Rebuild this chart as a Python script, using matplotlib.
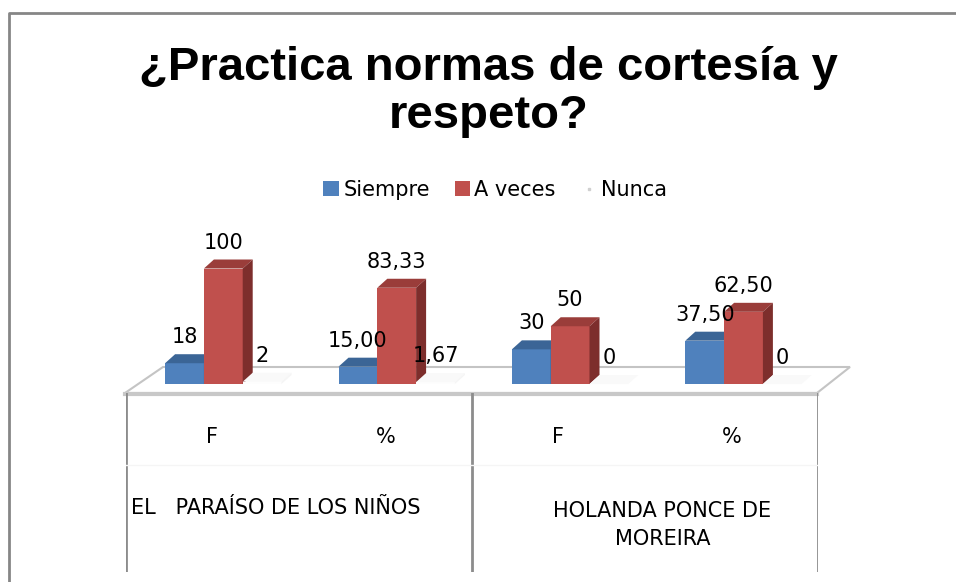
import numpy as np
import matplotlib
matplotlib.use('Agg')
import matplotlib.pyplot as plt
from matplotlib.patches import Patch, Polygon
from matplotlib.lines import Line2D

# data
categories = ['F', '%', 'F', '%']
groups = ['EL   PARAÍSO DE LOS NIÑOS', 'HOLANDA PONCE DE\nMOREIRA']
series = ['Siempre', 'A veces', 'Nunca']
siempre = [18, 15.00, 30, 37.50]
a_veces = [100, 83.33, 50, 62.50]
nunca = [2, 1.67, 0, 0]
labels_siempre = ['18', '15,00', '30', '37,50']
labels_a_veces = ['100', '83,33', '50', '62,50']
labels_nunca = ['2', '1,67', '0', '0']

W, H = 956, 582
fig = plt.figure(figsize=(W / 100, H / 100), dpi=100)


def px_box(x0, y0, x1, y1):
    # pixel box (top-left origin) -> figure fraction rect
    return [x0 / W, 1 - y1 / H, (x1 - x0) / W, (y1 - y0) / H]


# background layer in pixel units: frame, floor, title
bg = fig.add_axes([0, 0, 1, 1])
bg.set_xlim(0, W)
bg.set_ylim(H, 0)
bg.axis('off')
bg.plot([9, 9, W], [H, 13, 13], color='#868686', lw=2, solid_capstyle='butt')

floor = Polygon([(125, 393), (163, 367), (850, 367), (817, 393)], closed=True,
                facecolor='white', edgecolor='#c4c4c4', lw=1.5)
bg.add_patch(floor)
bg.plot([125, 817], [393.5, 393.5], color='#c8c8c8', lw=3)

title_font = dict(family='Liberation Sans', weight='bold', size=34)
bg.text(488, 80, '¿Practica normas de cortesía y', ha='center', va='baseline', **title_font)
bg.text(489, 128, 'respeto?', ha='center', va='baseline', **title_font)

txt = dict(family='DejaVu Sans', size=15)

# bars
ax = fig.add_axes(px_box(100, 200, 900, 400))
ax.set_xlim(-0.5992, -0.5992 + 800 / 173.4)
ax.set_ylim(-13.85, -13.85 + 200 / 1.155)
ax.axis('off')
ax.patch.set_alpha(0)

x = np.arange(len(categories))
w = 38.8 / 173.4
dx, dy = 10 / 173.4, 9 / 1.155

specs = [
    (siempre, labels_siempre, -w / 2, '#4f81bd', '#3b6596', '#2f5080'),
    (a_veces, labels_a_veces, w / 2, '#c0504d', '#9a3d3a', '#7d2e2c'),
    (nunca, labels_nunca, 1.5 * w, '#fdfdfd', '#f9f9f9', '#f5f5f5'),
]

for k, (vals, labs, off, front, top, side) in enumerate(specs):
    z = 3 + k
    bars = ax.bar(x + off, vals, width=w, color=front, zorder=z, linewidth=0)
    for b, lab in zip(bars, labs):
        x0 = b.get_x()
        x1 = x0 + b.get_width()
        h = b.get_height()
        ax.add_patch(Polygon([(x0, h), (x0 + dx, h + dy), (x1 + dx, h + dy), (x1, h)],
                             facecolor=top, edgecolor='none', zorder=z))
        ax.add_patch(Polygon([(x1, 0), (x1, h), (x1 + dx, h + dy), (x1 + dx, dy)],
                             facecolor=side, edgecolor='none', zorder=z))
        ax.annotate(lab, (x0 + b.get_width() / 2, h), xytext=(0, 26),
                    textcoords='offset pixels', ha='center', va='center',
                    zorder=10, **txt)

# legend
handles = [Patch(facecolor='#4f81bd'), Patch(facecolor='#c0504d'),
           Line2D([], [], ls='none', marker='s', ms=2, color='#d0d0d0')]
leg = ax.legend(handles, series, ncol=3, loc='center', frameon=False,
                bbox_to_anchor=(495 / W, 1 - 190 / H), bbox_transform=fig.transFigure,
                prop=dict(family='DejaVu Sans', size=15), handlelength=0.75,
                handleheight=0.75, handletextpad=0.2, columnspacing=1.2)

# category "table" below the floor
tb = fig.add_axes(px_box(126, 393, 818, 572))
tb.set_xlim(0, 4)
tb.set_ylim(1, 0)
tb.axis('off')
tb.patch.set_alpha(0)
for xv in [0, 2, 4]:
    tb.axvline(xv, color='#8c8c8c', lw=2)
tb.axhline(0.4, color='#f5f5f5', lw=1)
for i, c in enumerate(categories):
    tb.text(i + 0.5, (437 - 393) / 179, c, ha='center', va='center', **txt)
tb.text(5 / 173, (508 - 393) / 179, groups[0], ha='left', va='center', **txt)
tb.text(3.1, (525 - 393) / 179, groups[1], ha='center', va='center',
        linespacing=1.5, **txt)

fig.savefig('out.png', dpi=100)
